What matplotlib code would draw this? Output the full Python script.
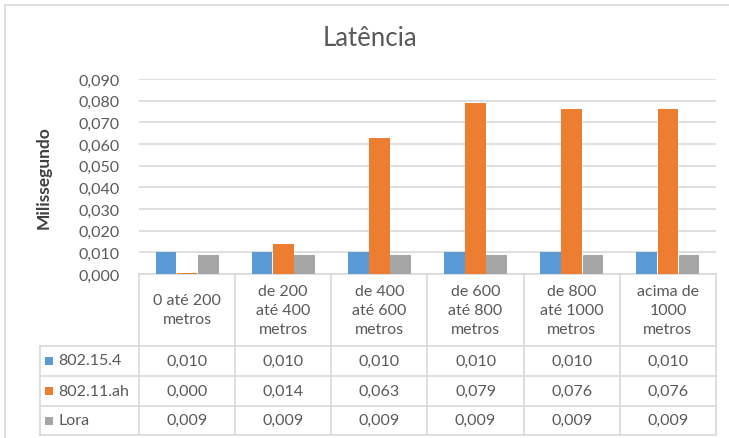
import matplotlib
matplotlib.use("Agg")
import matplotlib.pyplot as plt
from matplotlib.transforms import blended_transform_factory
from matplotlib.patches import Rectangle
from matplotlib.lines import Line2D

categories = ["0 até 200\nmetros", "de 200\naté 400\nmetros", "de 400\naté 600\nmetros",
              "de 600\naté 800\nmetros", "de 800\naté 1000\nmetros", "acima de\n1000\nmetros"]
series_names = ["802.15.4", "802.11.ah", "Lora"]
s_802154 = [0.010, 0.010, 0.010, 0.010, 0.010, 0.010]
s_80211ah = [0.0004, 0.014, 0.0627, 0.0788, 0.0762, 0.0762]
s_lora = [0.0087, 0.0087, 0.0087, 0.0087, 0.0087, 0.0087]
table_802154 = ["0,010", "0,010", "0,010", "0,010", "0,010", "0,010"]
table_80211ah = ["0,000", "0,014", "0,063", "0,079", "0,076", "0,076"]
table_lora = ["0,009", "0,009", "0,009", "0,009", "0,009", "0,009"]
yticks = [0.0, 0.01, 0.02, 0.03, 0.04, 0.05, 0.06, 0.07, 0.08, 0.09]
ytick_labels = ["0,000", "0,010", "0,020", "0,030", "0,040", "0,050", "0,060", "0,070", "0,080", "0,090"]

colors = ["#5B9BD5", "#ED7D31", "#A5A5A5"]
TXT = "#595959"
GRID = "#D9D9D9"
FONT = "Lato"

W, H = 729, 439
fig = plt.figure(figsize=(W / 100, H / 100), dpi=100)
fig.patch.set_facecolor("white")

def fx(px):
    return px / W

def fy(py):
    return 1 - py / H

ax_l, ax_r, ax_t, ax_b = 139, 716, 80, 275
ax = fig.add_axes([fx(ax_l), fy(ax_b), fx(ax_r - ax_l), (ax_b - ax_t) / H])
ax.set_xlim(-0.5, len(categories) - 0.5)
ax.set_ylim(0, 0.09)

bw = 0.22
series = [s_802154, s_80211ah, s_lora]
for k, (vals, c) in enumerate(zip(series, colors)):
    xs = [i + (k - 1) * bw for i in range(len(categories))]
    ax.bar(xs, vals, width=bw * 0.97, color=c, edgecolor="none", zorder=3)

ax.set_yticks(yticks)
ax.set_yticklabels(ytick_labels, fontfamily=FONT, fontsize=11.5, color=TXT)
ax.tick_params(axis="y", length=0, pad=14)
ax.set_xticks([])
ax.grid(axis="y", color=GRID, linewidth=1.2, zorder=0)
for s in ["left", "right", "top"]:
    ax.spines[s].set_visible(False)
ax.spines["bottom"].set_color(GRID)
ax.spines["bottom"].set_linewidth(1.2)
ax.spines["bottom"].set_zorder(1)
ax.set_axisbelow(True)

# title and y label
fig.text(fx(370), fy(39), "Latência", ha="center", va="center", fontfamily=FONT,
         fontsize=18.5, color=TXT)
fig.text(fx(44), fy(178), "Milissegundo", ha="center", va="center", rotation=90,
         fontfamily=FONT, fontsize=12.5, fontweight="bold", color="#404040")

# outer border
fig.add_artist(Rectangle((fx(5), fy(470)), fx(760), (470 - 6) / H, transform=fig.transFigure,
                         fill=False, edgecolor=GRID, linewidth=1.2))

# data table
bt = blended_transform_factory(ax.transData, fig.transFigure)
row_lines = [346.5, 376.5, 406.5, 435.5]
tbl_left = 40
for i in range(len(categories) + 1):
    fig.add_artist(Line2D([i - 0.5, i - 0.5], [fy(ax_b), fy(row_lines[-1])], transform=bt,
                          color=GRID, linewidth=1.2))
for ry in row_lines:
    fig.add_artist(Line2D([fx(tbl_left), fx(ax_r)], [fy(ry), fy(ry)], transform=fig.transFigure,
                          color=GRID, linewidth=1.2))
fig.add_artist(Line2D([fx(tbl_left), fx(tbl_left)], [fy(row_lines[0]), fy(row_lines[-1])],
                      transform=fig.transFigure, color=GRID, linewidth=1.2))

header_center = (ax_b + row_lines[0]) / 2
for i, cat in enumerate(categories):
    fig.text(i, fy(header_center), cat, transform=bt, ha="center", va="center",
             fontfamily=FONT, fontsize=11.5, color=TXT, linespacing=1.45)

tables = [table_802154, table_80211ah, table_lora]
for r, (name, vals, c) in enumerate(zip(series_names, tables, colors)):
    cy = (row_lines[r] + row_lines[r + 1]) / 2
    fig.add_artist(Rectangle((fx(45), fy(cy + 4.5)), fx(8), 8 / H, transform=fig.transFigure,
                             facecolor=c, edgecolor="none"))
    fig.text(fx(58), fy(cy), name, ha="left", va="center", fontfamily=FONT,
             fontsize=11.5, color=TXT)
    for i, v in enumerate(vals):
        fig.text(i, fy(cy), v, transform=bt, ha="center", va="center",
                 fontfamily=FONT, fontsize=11.5, color=TXT)

fig.savefig("out.png", dpi=100)
